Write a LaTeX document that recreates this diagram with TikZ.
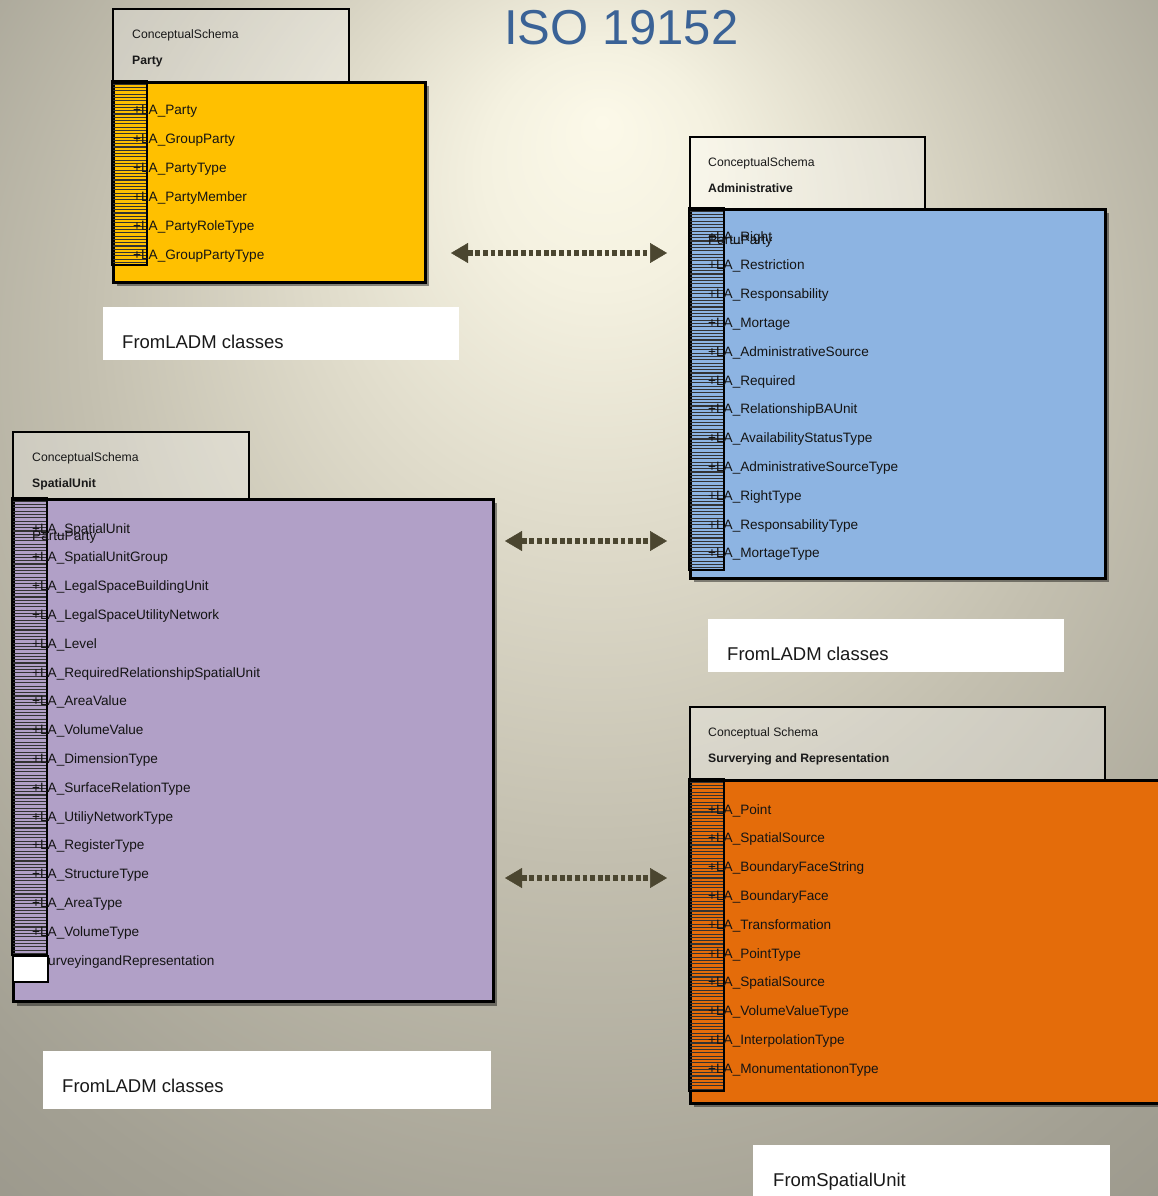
\documentclass[tikz,border=0pt]{standalone}
\usepackage{fontspec}
\setmainfont{Liberation Sans}
\usetikzlibrary{arrows.meta}
\definecolor{partyc}{HTML}{FFC000}
\definecolor{adminc}{HTML}{8DB4E2}
\definecolor{spatialc}{HTML}{B1A0C7}
\definecolor{survc}{HTML}{E46C0A}
\definecolor{arrowc}{HTML}{4B4630}
\definecolor{titlec}{HTML}{3A6296}
\definecolor{bgA}{HTML}{FCF9E9}
\definecolor{bgB}{HTML}{F4F1E0}
\definecolor{bgC}{HTML}{E0DCCB}
\definecolor{bgD}{HTML}{C3BFAF}
\definecolor{bgE}{HTML}{A3A093}
\definecolor{bgF}{HTML}{8A877C}
\pgfdeclareradialshading{bgshade}{\pgfpoint{1bp}{20bp}}{color(0bp)=(bgA); color(5bp)=(bgB); color(12bp)=(bgC); color(22bp)=(bgD); color(35bp)=(bgE); color(50bp)=(bgF)}
\tikzset{
  tabbox/.style={draw=black, line width=2pt, fill=white, fill opacity=0.28, anchor=north west, inner sep=0pt},
  pkgbody/.style={draw=black, line width=2.8pt, anchor=north west, inner sep=0pt},
  shadowbox/.style={fill=black, opacity=0.42},
  item/.style={anchor=base west, inner sep=0pt, text=black!92, font=\fontsize{13.6}{16}\selectfont},
  schema/.style={anchor=base west, inner sep=0pt, text=black!90, font=\fontsize{12.2}{14}\selectfont},
  schemab/.style={anchor=base west, inner sep=0pt, text=black!90, font=\fontsize{12.2}{14}\selectfont\bfseries},
  labelbox/.style={fill=white, anchor=north west, inner sep=0pt},
  labeltext/.style={anchor=base west, inner sep=0pt, text=black!90, font=\fontsize{18.5}{22}\selectfont},
  stripeline/.style={draw=black!80, line width=1.05pt},
  barframe/.style={draw=black, line width=1.6pt},
  assoc/.style={draw=arrowc, line width=5.8pt, dash pattern=on 4.8pt off 2.8pt,
    {Triangle[length=17pt,width=20pt,line width=0.5pt]}-{Triangle[length=17pt,width=20pt,line width=0.5pt]}},
}
\newcommand\stripebar[4]{%
  \pgfmathtruncatemacro\nstrp{(#4-#2)/3.3}%
  \foreach \k in {1,...,\nstrp} \draw[stripeline] (#1,{#2+\k*3.3}) -- (#3,{#2+\k*3.3});%
  \draw[barframe] (#1,#2) rectangle (#3,#4);%
}
\begin{document}
\begin{tikzpicture}[x=1pt,y=-1pt]
\useasboundingbox (0,0) rectangle (1158,1196);
\fill[bgF] (0,0) rectangle (1158,1196);
\shade[shading=bgshade] (0,0) rectangle (1158,1196);

% title
\node[anchor=base west, inner sep=0pt, text=titlec, font=\fontsize{49}{58}\selectfont] (title) at (504,45) {ISO 19152};

% ---------- Party package
\fill[shadowbox] (117,86) rectangle (429,286);
\node[tabbox, minimum width=236pt, minimum height=73pt] (partytab) at (112,8) {};
\node[pkgbody, fill=partyc, minimum width=312pt, minimum height=200pt] (partybody) at (112,81) {};
\stripebar{112}{81}{147}{265}
\node[schema] (partys1) at (132,39) {ConceptualSchema};
\node[schemab] (partys2) at (132,65) {Party};
\foreach \t [count=\i from 0] in {+LA\_Party,+LA\_GroupParty,+LA\_PartyType,+LA\_PartyMember,+LA\_PartyRoleType,+LA\_GroupPartyType}
  \node[item] (pi\i) at (133,{115+\i*28.8}) {\t};
\node[labelbox, minimum width=356pt, minimum height=53pt] (partylab) at (103,307) {};
\node[labeltext] (partylabt) at (122,348) {FromLADM classes};

% ---------- Administrative package
\fill[shadowbox] (694,213) rectangle (1109,582);
\node[tabbox, minimum width=235pt, minimum height=72pt] (admintab) at (689,136) {};
\node[pkgbody, fill=adminc, minimum width=415pt, minimum height=369pt] (adminbody) at (689,208) {};
\stripebar{689}{208}{724}{570}
\node[schema] (admins1) at (708,166) {ConceptualSchema};
\node[schemab] (admins2) at (708,192) {Administrative};
\foreach \t [count=\i from 0] in {+LA\_Right,+LA\_Restriction,+LA\_Responsability,+LA\_Mortage,+LA\_AdministrativeSource,+LA\_Required,+LA\_RelationshipBAUnit,+LA\_AvailabilityStatusType,+LA\_AdministrativeSourceType,+LA\_RightType,+LA\_ResponsabilityType,+LA\_MortageType}
  \node[item] (ai\i) at (708,{241+\i*28.8}) {\t};
\node[item] (adminpp) at (708,244) {PartuParty};
\node[labelbox, minimum width=356pt, minimum height=53pt] (adminlab) at (708,619) {};
\node[labeltext] (adminlabt) at (727,660) {FromLADM classes};

% ---------- SpatialUnit package
\fill[shadowbox] (17,503) rectangle (497,1006);
\node[tabbox, minimum width=236pt, minimum height=67pt] (spattab) at (12,431) {};
\node[pkgbody, fill=spatialc, minimum width=480pt, minimum height=502pt] (spatbody) at (12,498) {};
\stripebar{12}{498}{47}{955}
\node[draw=black, line width=1.6pt, fill=white, anchor=north west, inner sep=0pt, minimum width=35pt, minimum height=26pt] (spatwhite) at (12,955) {};
\node[schema] (spats1) at (32,461) {ConceptualSchema};
\node[schemab] (spats2) at (32,487) {SpatialUnit};
\foreach \t [count=\i from 0] in {+LA\_SpatialUnit,+LA\_SpatialUnitGroup,+LA\_LegalSpaceBuildingUnit,+LA\_LegalSpaceUtilityNetwork,+LA\_Level,+LA\_RequiredRelationshipSpatialUnit,+LA\_AreaValue,+LA\_VolumeValue,+LA\_DimensionType,+LA\_SurfaceRelationType,+LA\_UtiliyNetworkType,+LA\_RegisterType,+LA\_StructureType,+LA\_AreaType,+LA\_VolumeType}
  \node[item] (si\i) at (32,{533+\i*28.8}) {\t};
\node[item] (silast) at (48,965) {urveyingandRepresentation};
\node[item] (spatpp) at (32,540) {PartuParty};
\node[labelbox, minimum width=448pt, minimum height=58pt] (spatlab) at (43,1051) {};
\node[labeltext] (spatlabt) at (62,1092) {FromLADM classes};

% ---------- Surveying package
\fill[shadowbox] (694,784) rectangle (1170,1107);
\node[tabbox, minimum width=415pt, minimum height=73pt] (survtab) at (689,706) {};
\node[pkgbody, fill=survc, minimum width=480pt, minimum height=323pt] (survbody) at (689,779) {};
\stripebar{689}{779}{724}{1091}
\node[schema] (survs1) at (708,736) {Conceptual Schema};
\node[schemab] (survs2) at (708,762) {Surverying and Representation};
\foreach \t [count=\i from 0] in {+LA\_Point,+LA\_SpatialSource,+LA\_BoundaryFaceString,+LA\_BoundaryFace,+LA\_Transformation,+LA\_PointType,+LA\_SpatialSource,+LA\_VolumeValueType,+LA\_InterpolationType,+LA\_MonumentationonType}
  \node[item] (vi\i) at (708,{814+\i*28.8}) {\t};
\node[labelbox, minimum width=357pt, minimum height=60pt] (survlab) at (753,1145) {};
\node[labeltext] (survlabt) at (773,1186) {FromSpatialUnit};

% ---------- associations
\coordinate (a1l) at (451,253);
\coordinate (a1r) at (667,253);
\coordinate (a2l) at (505,541);
\coordinate (a2r) at (667,541);
\coordinate (a3l) at (505,878);
\coordinate (a3r) at (667,878);
\draw[assoc] (a1l) -- (a1r);
\draw[assoc] (a2l) -- (a2r);
\draw[assoc] (a3l) -- (a3r);
\end{tikzpicture}
\end{document}
